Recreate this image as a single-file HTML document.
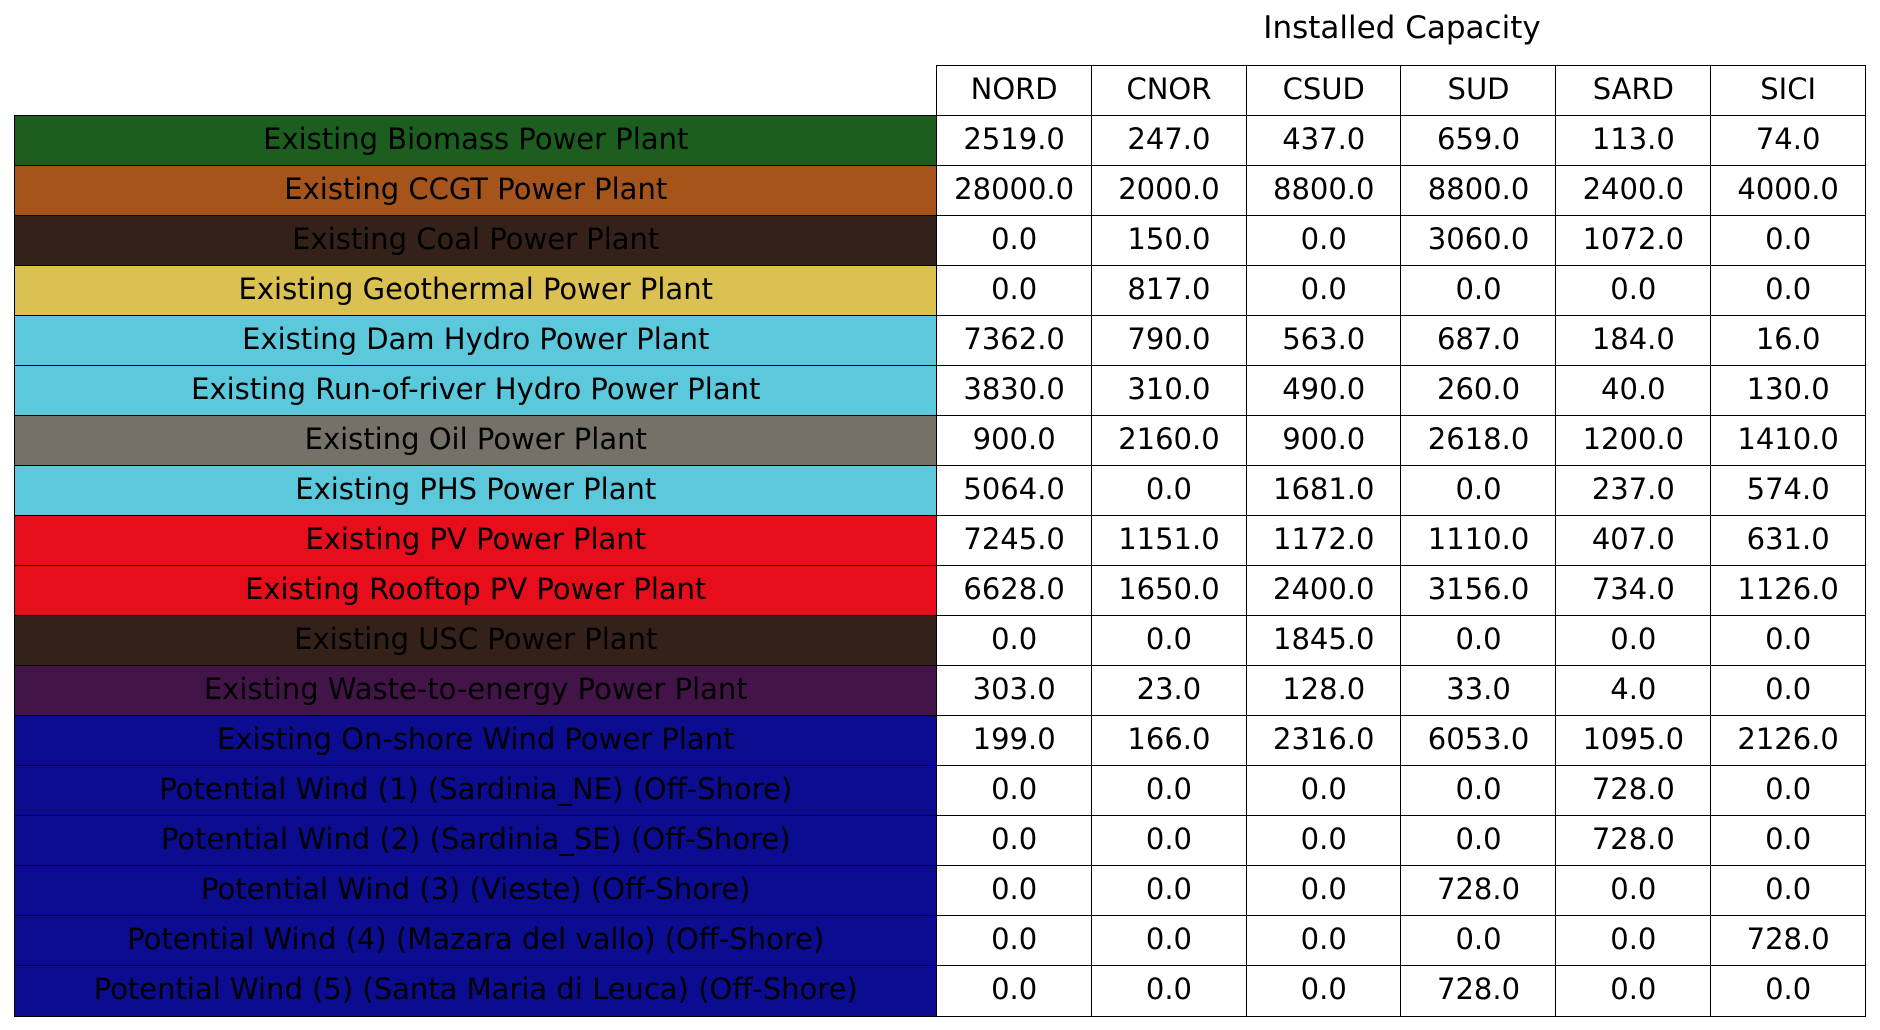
<!DOCTYPE html>
<html><head><meta charset="utf-8"><style>
body{margin:0;width:1880px;height:1030px;background:#fff;position:relative;overflow:hidden;font-family:"DejaVu Sans","Liberation Sans",sans-serif;font-size:29px;color:#000}
.c{position:absolute;box-sizing:border-box;border:1.5px solid #000;display:flex;align-items:center;justify-content:center;white-space:nowrap;padding-bottom:3px}
#title{position:absolute;left:1100px;width:604px;top:10px;text-align:center;font-size:31px}
</style></head><body>
<div id="title">Installed Capacity</div>
<div id="tbl"></div>
<script>
const columns=["NORD","CNOR","CSUD","SUD","SARD","SICI"];
const rowLabels=["Existing Biomass Power Plant","Existing CCGT Power Plant","Existing Coal Power Plant","Existing Geothermal Power Plant","Existing Dam Hydro Power Plant","Existing Run-of-river Hydro Power Plant","Existing Oil Power Plant","Existing PHS Power Plant","Existing PV Power Plant","Existing Rooftop PV Power Plant","Existing USC Power Plant","Existing Waste-to-energy Power Plant","Existing On-shore Wind Power Plant","Potential Wind (1) (Sardinia_NE) (Off-Shore)","Potential Wind (2) (Sardinia_SE) (Off-Shore)","Potential Wind (3) (Vieste) (Off-Shore)","Potential Wind (4) (Mazara del vallo) (Off-Shore)","Potential Wind (5) (Santa Maria di Leuca) (Off-Shore)"];
const rowColors=["#1b5e20","#a5541c","#33211a","#dbc152","#5bc8db","#5bc8db","#757068","#5bc8db","#e70d1b","#e70d1b","#33211a","#431447","#0c0c91","#0c0c91","#0c0c91","#0c0c91","#0c0c91","#0c0c91"];
const values=[
[2519,247,437,659,113,74],
[28000,2000,8800,8800,2400,4000],
[0,150,0,3060,1072,0],
[0,817,0,0,0,0],
[7362,790,563,687,184,16],
[3830,310,490,260,40,130],
[900,2160,900,2618,1200,1410],
[5064,0,1681,0,237,574],
[7245,1151,1172,1110,407,631],
[6628,1650,2400,3156,734,1126],
[0,0,1845,0,0,0],
[303,23,128,33,4,0],
[199,166,2316,6053,1095,2126],
[0,0,0,0,728,0],
[0,0,0,0,728,0],
[0,0,0,728,0,0],
[0,0,0,0,0,728],
[0,0,0,728,0,0]];
const tbl=document.getElementById('tbl');
const L=14,LW=922,X0=936,CW=154.8,HT=65,RT=115,RH=50;
function cell(x,y,w,h,txt,bg){const d=document.createElement('div');d.className='c';
d.style.cssText=`left:${x}px;top:${y}px;width:${w+1.5}px;height:${h+1.5}px;background:${bg||'#fff'}`;
d.textContent=txt;tbl.appendChild(d);return d;}
columns.forEach((c,j)=>{const d=cell(X0+j*CW,HT,CW,RT-HT,c);

});
rowLabels.forEach((r,i)=>{const y=RT+i*RH;
const d=cell(L,y,LW,RH,r,rowColors[i]);


values[i].forEach((v,j)=>{const e=cell(X0+j*CW,y,CW,RH,v.toFixed(1));

});});
</script>
</body></html>
